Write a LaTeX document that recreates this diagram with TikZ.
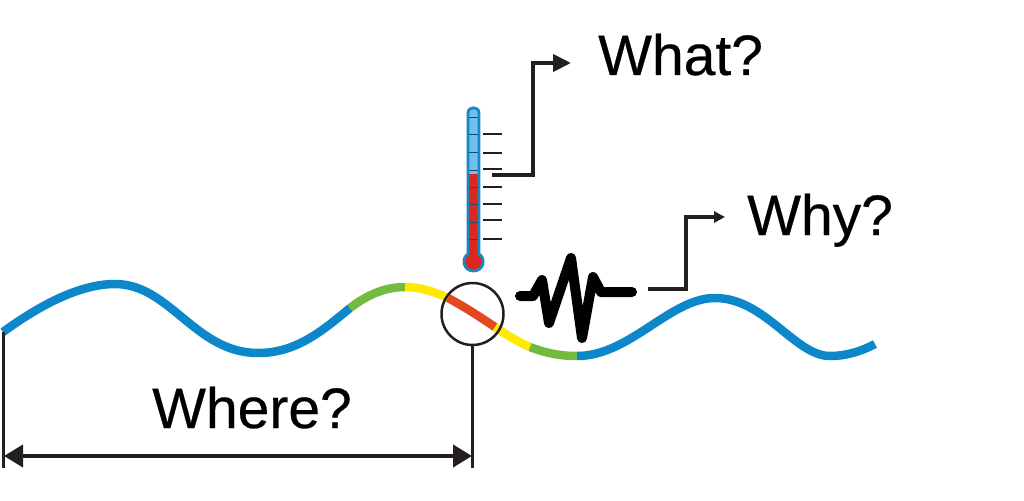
\documentclass[tikz,border=0pt]{standalone}
\usepackage{fontspec}
\setmainfont{Liberation Sans}
\newfontfamily\labfont[FakeBold=0.4]{Liberation Sans}
\usetikzlibrary{arrows.meta}
\definecolor{wblue}{HTML}{0B87CA}
\definecolor{wgreen}{HTML}{72BB3E}
\definecolor{wyellow}{HTML}{FFE900}
\definecolor{wred}{HTML}{E3481E}
\definecolor{tblue}{HTML}{1787C8}
\definecolor{tlight}{HTML}{6FC0EA}
\definecolor{tred}{HTML}{D9281E}
\definecolor{ink}{HTML}{231F20}
\tikzset{
  wave/.style={line width=8.5pt,line cap=butt},
  label/.style={anchor=base west,inner sep=0pt,font=\labfont\fontsize{57}{60}\selectfont,text=black},
  ring/.style={circle,draw=ink,line width=2.5pt,inner sep=0pt,minimum size=62pt},
  thin rule/.style={draw=ink,line width=2.6pt},
  tick/.style={draw=ink,line width=2.6pt},
  inner tick/.style={draw=ink!60!tblue,line width=0.9pt},
  conn/.style={draw=ink,line join=miter},
}
\begin{document}
\begin{tikzpicture}[x=1pt,y=-1pt]
\useasboundingbox (0,0) rectangle (1024,500);
% wave
\draw[wave,wblue] (3,332) .. controls (40,305) and (80,284) .. (115,284) .. controls (170,284) and (195,353) .. (258,353) .. controls (295,353) and (320,333) .. (350,308);
\draw[wave,wgreen] (350,308) .. controls (367,295) and (385,287) .. (405,287);
\draw[wave,wyellow] (405,287) .. controls (420,287) and (435,292) .. (448,298);
\draw[wave,wred] (448,298) .. controls (465,307) and (480,317) .. (495,327);
\draw[wave,wyellow] (495,327) .. controls (507,335) and (518,342) .. (530,347);
\draw[wave,wgreen] (530,347) .. controls (545,353) and (560,356) .. (577,356);
\draw[wave,wblue] (577,356) .. controls (630,356) and (670,298) .. (715,298) .. controls (765,298) and (795,356) .. (830,356) .. controls (845,356) and (860,352) .. (875,344);
% ring and measure
\node[ring] (ring) at (472.5,314) {};
\coordinate (leftEnd) at (3.5,332);
\coordinate (leftFoot) at (3.5,468);
\coordinate (rightFoot) at (472.5,468);
\coordinate (arrL) at (4,456);
\coordinate (arrR) at (472,456);
\draw[thin rule] (leftEnd) -- (leftFoot);
\draw[thin rule] (ring.south) -- (rightFoot);
\draw[draw=ink,line width=4pt,{Triangle[length=19pt,width=22pt]}-{Triangle[length=19pt,width=22pt]},fill=ink] (arrL) -- (arrR);
% thermometer
\fill[tlight] (468,174) -- (468,113) .. controls (468,106) and (479,106) .. (479,113) -- (479,174) -- cycle;
\fill[tred] (468,174) -- (479,174) -- (479,254) .. controls (486,258) and (484,271) .. (473.5,271) .. controls (463,271) and (461,258) .. (468,254) -- cycle;
\foreach \y in {117,134,152,170,187,204,222,239}
  \draw[inner tick] (469,\y) -- (478,\y);
\draw[tblue,line width=2.8pt,line join=round] (468,254) -- (468,113) .. controls (468,106) and (479,106) .. (479,113) -- (479,254) .. controls (486,258) and (484,271) .. (473.5,271) .. controls (463,271) and (461,258) .. (468,254) -- cycle;
\foreach \y in {134,153,169,187,204,220,239}
  \draw[tick] (483,\y) -- (502,\y);
% signal
\draw[black,line width=10pt,line cap=round,line join=round] (520,296) -- (533,296) -- (542,280) -- (549,323) -- (571,258) -- (582,338) -- (593,277) -- (601,292) -- (632,292);
% labels
\node[label] (what) at (598,75) {What?};
\node[label] (why) at (747,235) {Why?};
\node[label] (where) at (152,428) {Where?};
% connectors
\coordinate (whatStart) at (492,175);
\coordinate (whatTip) at (571,63);
\coordinate (whyStart) at (648,289);
\coordinate (whyTip) at (725,217);
\draw[conn,line width=4pt,-{Triangle[length=18pt,width=17pt]}] (whatStart) -- (533,175) -- (533,63) -- (whatTip);
\draw[conn,line width=3.2pt,-{Triangle[length=11pt,width=11pt]}] (whyStart) -- (686,289) -- (686,217) -- (whyTip);
\end{tikzpicture}
\end{document}
